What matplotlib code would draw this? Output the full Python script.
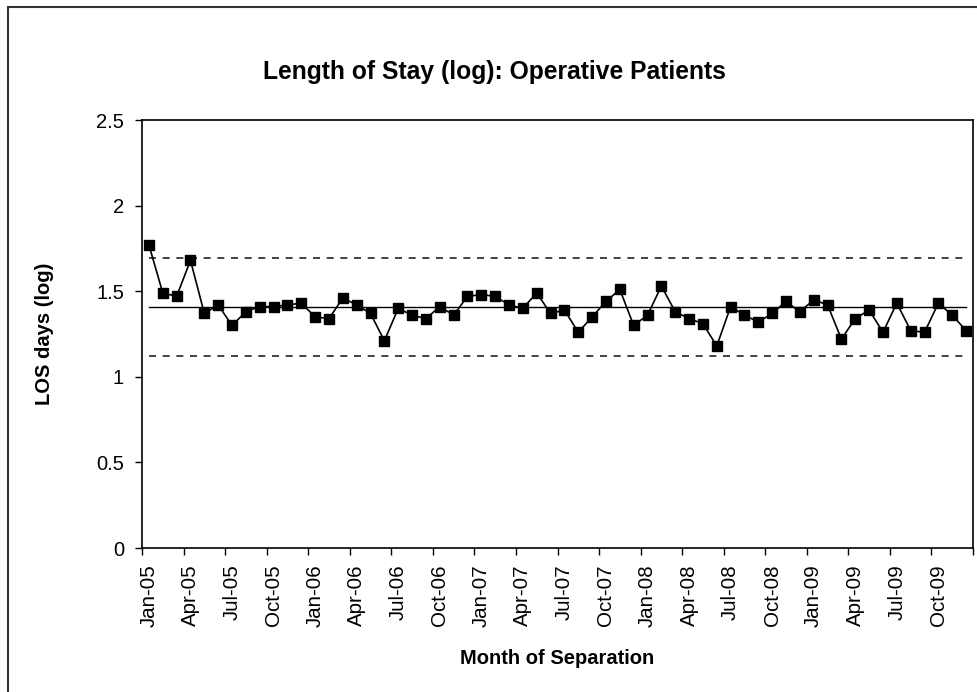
import numpy as np
import matplotlib
matplotlib.use('Agg')
import matplotlib.pyplot as plt
from matplotlib.patches import Rectangle

plt.rcParams['font.family'] = ['Liberation Sans', 'DejaVu Sans']

# monthly LOS (log), Jan-05 .. Dec-09
years = ['05', '06', '07', '08', '09']
monthNames = ['Jan', 'Feb', 'Mar', 'Apr', 'May', 'Jun', 'Jul', 'Aug', 'Sep', 'Oct', 'Nov', 'Dec']
months = ['%s-%s' % (m, y) for y in years for m in monthNames]

losLog = [1.77, 1.49, 1.47, 1.68, 1.37, 1.42, 1.30, 1.38, 1.41, 1.41, 1.42, 1.43,
          1.35, 1.34, 1.46, 1.42, 1.37, 1.21, 1.40, 1.36, 1.34, 1.41, 1.36, 1.47,
          1.48, 1.47, 1.42, 1.40, 1.49, 1.37, 1.39, 1.26, 1.35, 1.44, 1.51, 1.30,
          1.36, 1.53, 1.38, 1.34, 1.31, 1.18, 1.41, 1.36, 1.32, 1.37, 1.44, 1.38,
          1.45, 1.42, 1.22, 1.34, 1.39, 1.26, 1.43, 1.27, 1.26, 1.43, 1.36, 1.27]

meanLine = 1.408
ucl = 1.692
lcl = 1.119

W, H = 978, 692
fig = plt.figure(figsize=(W/100, H/100), dpi=100)
ax = fig.add_axes([142/W, 1-548/H, (973-142)/W, (548-120)/H])

x = np.arange(len(losLog))
ax.plot(x, losLog, '-', color='k', lw=1.2, marker='s', ms=7.4, mfc='k', mec='k', zorder=3)
ax.plot([x[0], x[-1]], [meanLine, meanLine], '-', color='k', lw=1.0, zorder=2)
ax.plot([x[0], x[-1]], [ucl, ucl], color='#222222', lw=1.2, dashes=(4.2, 4), zorder=2)
ax.plot([x[0], x[-1]], [lcl, lcl], color='#222222', lw=1.2, dashes=(4.2, 4), zorder=2)

ax.set_xlim(-0.5, len(losLog)-0.5)
ax.set_ylim(0, 2.5)
ax.set_yticks([0, 0.5, 1, 1.5, 2, 2.5])
ax.set_yticklabels(['0', '0.5', '1', '1.5', '2', '2.5'], fontsize=14.5)
ax.tick_params(axis='y', direction='out', length=5, width=1, pad=8)

ax.set_xticks(x[::3])
ax.set_xticklabels(months[::3], rotation=90, fontsize=14.8)
ax.set_xticks(np.arange(-0.5, len(losLog), 3), minor=True)
ax.tick_params(axis='x', which='major', length=0, pad=12)
ax.tick_params(axis='x', which='minor', direction='out', length=5, width=1)

for s in ax.spines.values():
    s.set_linewidth(1.2)
    s.set_color('k')

fig.text(494/W, 1-72/H, 'Length of Stay (log): Operative Patients', ha='center', va='center',
         fontsize=17.7, fontweight='bold')
fig.text(44/W, 1-334/H, 'LOS days (log)', ha='center', va='center', rotation=90,
         fontsize=14.5, fontweight='bold')
fig.text(557.5/W, 1-658/H, 'Month of Separation', ha='center', va='center',
         fontsize=14.5, fontweight='bold')

fig.patches.append(Rectangle((8/W, -0.05), 1.2, 1.05-7/H, transform=fig.transFigure,
                             fill=False, edgecolor='#333333', lw=1.5))

fig.savefig('out.png', dpi=100)
